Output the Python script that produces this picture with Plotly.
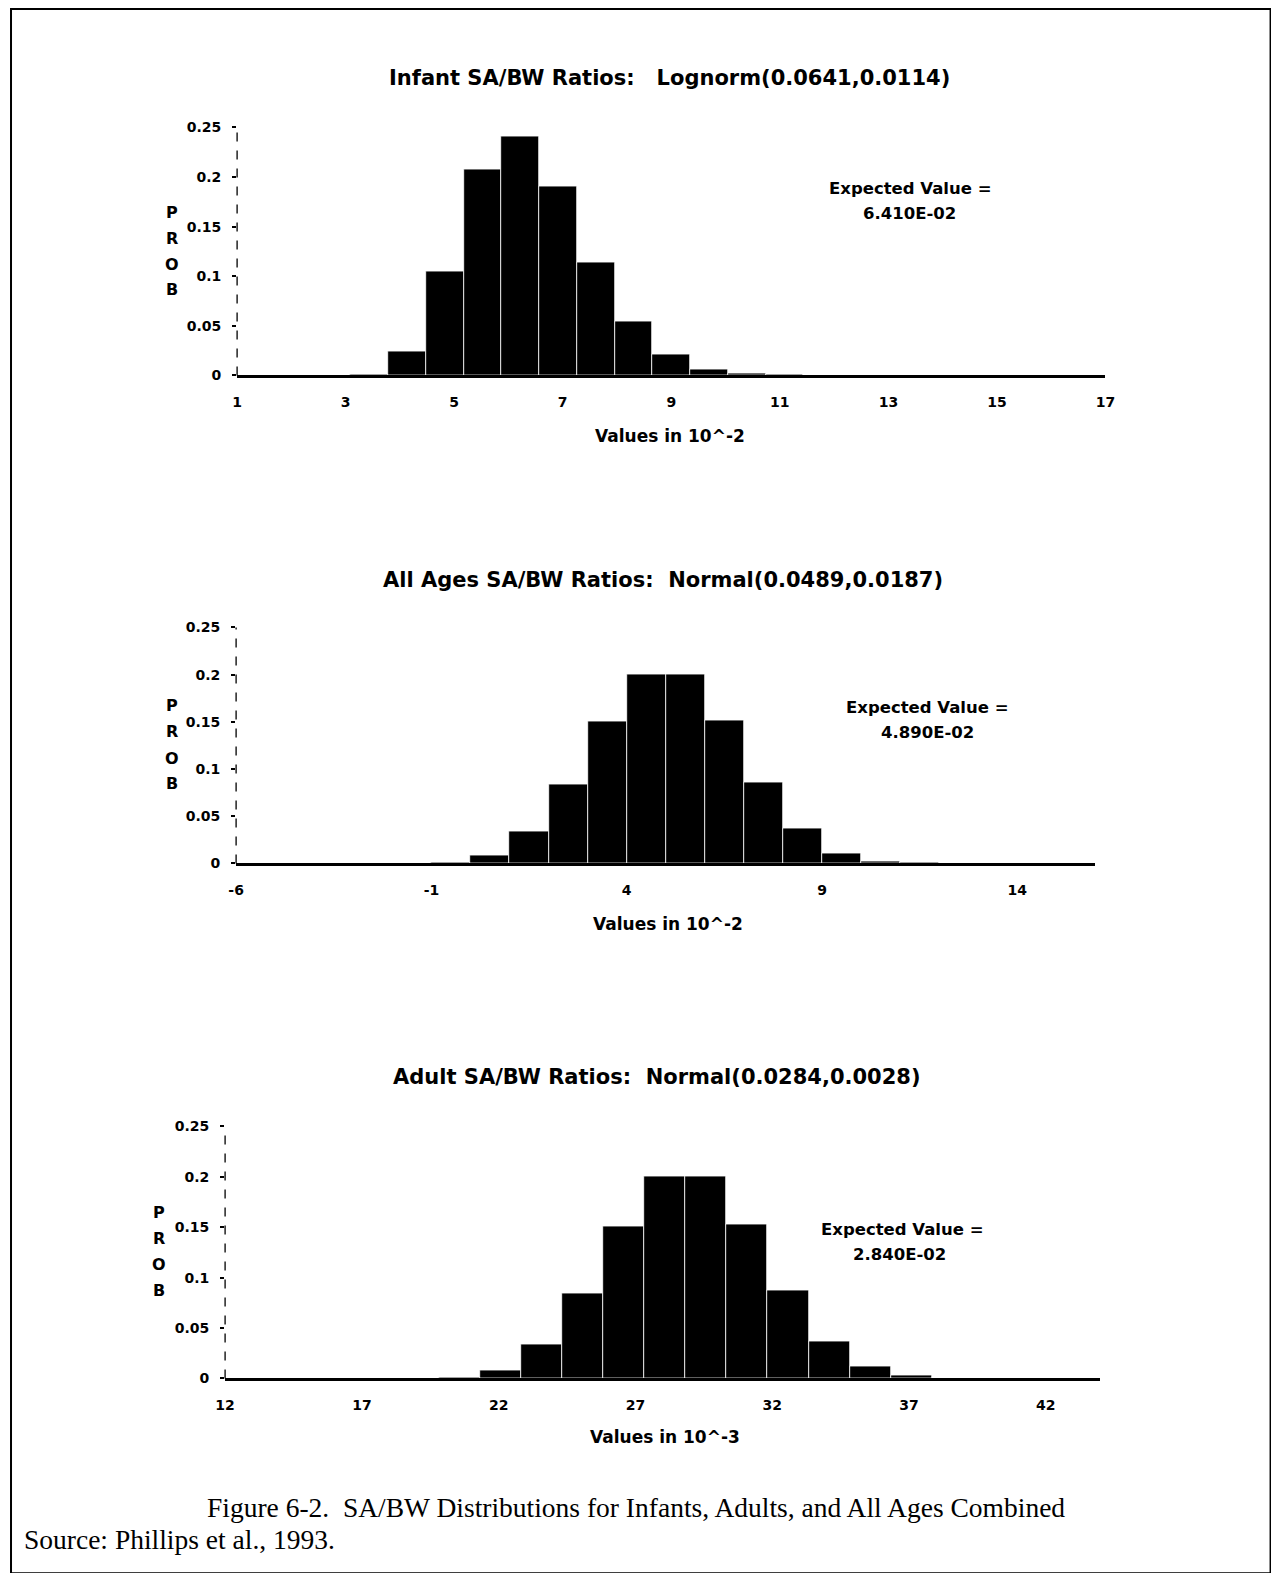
import numpy as np
import plotly.graph_objects as go

# The page is photographed with an ~8px inset and a ~0.985 scale; layout
# positions below are given in photographed-pixel terms and converted.
OFF = 8
KX, KY = 0.984, 0.986
W, H = 1285, 1588

# ---------------- data ----------------
# Infant: 23 bins spanning 1..17 (values in 10^-2)
infant_bin_start = 1.0
infant_bin_width = 16 / 23
infant_prob = [0, 0, 0, 0.0012, 0.024, 0.105, 0.208, 0.241, 0.191, 0.114, 0.054,
               0.021, 0.0065, 0.002, 0.0006, 0, 0, 0, 0, 0, 0, 0, 0]

# All ages: 22 bins spanning -6..16 (values in 10^-2)
all_bin_start = -6.0
all_bin_width = 1.0
all_prob = [0, 0, 0, 0, 0, 0.001, 0.008, 0.034, 0.084, 0.150, 0.200, 0.200,
            0.151, 0.086, 0.037, 0.011, 0.002, 0.0005, 0, 0, 0, 0]

# Adult: bins of width 1.5 (values in 10^-3)
adult_bin_start = 12.33
adult_bin_width = 1.5
adult_prob = [0, 0, 0, 0, 0, 0.001, 0.008, 0.034, 0.084, 0.151, 0.200,
              0.200, 0.153, 0.087, 0.037, 0.012, 0.003, 0.0005, 0, 0, 0]

infant_ticks = [1, 3, 5, 7, 9, 11, 13, 15, 17]
all_ticks = [-6, -1, 4, 9, 14]
adult_ticks = [12, 17, 22, 27, 32, 37, 42]
y_ticks = [0, 0.05, 0.1, 0.15, 0.2, 0.25]
y_tick_text = ["0", "0.05", "0.1", "0.15", "0.2", "0.25"]

titles = ["Infant SA/BW Ratios:   Lognorm(0.0641,0.0114)",
          "All Ages SA/BW Ratios:  Normal(0.0489,0.0187)",
          "Adult SA/BW Ratios:  Normal(0.0284,0.0028)"]
expected = ["6.410E-02", "4.890E-02", "2.840E-02"]
x_titles = ["Values in 10^-2", "Values in 10^-2", "Values in 10^-3"]

# ---------------- layout helpers (photo pixel -> paper) ----------------
def px(x):
    return min(max((x - OFF) / KX / W, 0.0), 1.0)

def py(y):
    return min(max(1 - (y - OFF) / KY / H, 0.0), 1.0)

FONT = "DejaVu Sans"
panels = [
    dict(start=infant_bin_start, width=infant_bin_width, prob=infant_prob,
         xr=[1, 17], ticks=infant_ticks, dom_x=(235, 1103), dom_y=(374, 127),
         title=(667, 78), ev=(908, 188, 907, 213), xt=(668, 434),
         prob_lbl=(170, [212, 238, 263, 288])),
    dict(start=all_bin_start, width=all_bin_width, prob=all_prob,
         xr=[-6, 16], ticks=all_ticks, dom_x=(234, 1093), dom_y=(860, 625),
         title=(661, 578), ev=(925, 705, 925, 730), xt=(666, 920),
         prob_lbl=(170, [703, 729, 756, 780])),
    dict(start=adult_bin_start, width=adult_bin_width, prob=adult_prob,
         xr=[12, 44], ticks=adult_ticks, dom_x=(223, 1098), dom_y=(1373, 1122),
         title=(655, 1073), ev=(900, 1225, 897, 1250), xt=(663, 1431),
         prob_lbl=(157, [1208, 1234, 1260, 1285])),
]

fig = go.Figure()
annotations = []
shapes = []
layout = {}

for i, p in enumerate(panels):
    n = i + 1
    xa = "x" if n == 1 else f"x{n}"
    ya = "y" if n == 1 else f"y{n}"
    centers = p["start"] + (np.arange(len(p["prob"])) + 0.5) * p["width"]
    fig.add_trace(go.Bar(
        x=centers, y=p["prob"], width=p["width"],
        marker=dict(color="black", line=dict(color="white", width=0.8)),
        xaxis=xa, yaxis=ya, showlegend=False, hoverinfo="skip"))

    xkey = "xaxis" if n == 1 else f"xaxis{n}"
    ykey = "yaxis" if n == 1 else f"yaxis{n}"
    layout[xkey] = dict(
        domain=[px(p["dom_x"][0]), px(p["dom_x"][1])], anchor=ya,
        range=p["xr"], tickmode="array", tickvals=p["ticks"],
        ticktext=[str(t) for t in p["ticks"]],
        showline=True, linecolor="black", linewidth=3, mirror=False,
        showgrid=False, zeroline=False, ticks="", ticklabelstandoff=12,
        tickfont=dict(family=FONT, size=14, color="black", weight="bold"))
    layout[ykey] = dict(
        domain=[py(p["dom_y"][0]), py(p["dom_y"][1])], anchor=xa,
        range=[0, 0.25], tickmode="array", tickvals=y_ticks, ticktext=y_tick_text,
        showline=False, showgrid=False, zeroline=False,
        ticks="outside", ticklen=4, tickwidth=1.5, tickcolor="black",
        ticklabelstandoff=8,
        tickfont=dict(family=FONT, size=14, color="black", weight="bold"))

    # dashed y axis line
    shapes.append(dict(type="line", xref=f"{xa} domain", yref=f"{ya} domain",
                       x0=0, x1=0, y0=0, y1=1,
                       line=dict(color="black", width=1.3, dash="dash")))

    tx, ty = p["title"]
    annotations.append(dict(text=titles[i], x=px(tx), y=py(ty), xref="paper", yref="paper",
                            showarrow=False, xanchor="center", yanchor="middle",
                            font=dict(family=FONT, size=21, color="black", weight="bold")))
    e1x, e1y, e2x, e2y = p["ev"]
    annotations.append(dict(text="Expected Value =", x=px(e1x), y=py(e1y), xref="paper",
                            yref="paper", showarrow=False, xanchor="center", yanchor="middle",
                            font=dict(family=FONT, size=16.5, color="black", weight="bold")))
    annotations.append(dict(text=expected[i], x=px(e2x), y=py(e2y), xref="paper",
                            yref="paper", showarrow=False, xanchor="center", yanchor="middle",
                            font=dict(family=FONT, size=16.5, color="black", weight="bold")))
    xx, xy = p["xt"]
    annotations.append(dict(text=x_titles[i], x=px(xx), y=py(xy), xref="paper", yref="paper",
                            showarrow=False, xanchor="center", yanchor="middle",
                            font=dict(family=FONT, size=17, color="black", weight="bold")))
    lx, lys = p["prob_lbl"]
    for ch, ly in zip("PROB", lys):
        annotations.append(dict(text=ch, x=px(lx), y=py(ly), xref="paper", yref="paper",
                                showarrow=False, xanchor="center", yanchor="middle",
                                font=dict(family=FONT, size=16, color="black", weight="bold")))

# caption
annotations.append(dict(text="Figure 6-2.  SA/BW Distributions for Infants, Adults, and All Ages Combined",
                        x=px(203), y=py(1502), xref="paper", yref="paper", showarrow=False,
                        xanchor="left", yanchor="middle",
                        font=dict(family="Liberation Serif", size=27.5, color="black")))
annotations.append(dict(text="Source: Phillips et al., 1993.",
                        x=px(20), y=py(1533), xref="paper", yref="paper", showarrow=False,
                        xanchor="left", yanchor="middle",
                        font=dict(family="Liberation Serif", size=27.5, color="black")))

# page frame
shapes.append(dict(type="rect", xref="paper", yref="paper",
                   x0=max(px(3), 0.0008), x1=px(1268), y0=py(1567), y1=min(py(5), 0.9993),
                   line=dict(color="black", width=2)))

fig.update_layout(
    width=W, height=H, margin=dict(l=0, r=0, t=0, b=0),
    paper_bgcolor="white", plot_bgcolor="white",
    bargap=0, annotations=annotations, shapes=shapes, **layout)

fig.write_html(
    "out.html",
    config={"displayModeBar": False},
    post_script="document.body.style.margin='0';document.body.style.overflow='hidden';")
